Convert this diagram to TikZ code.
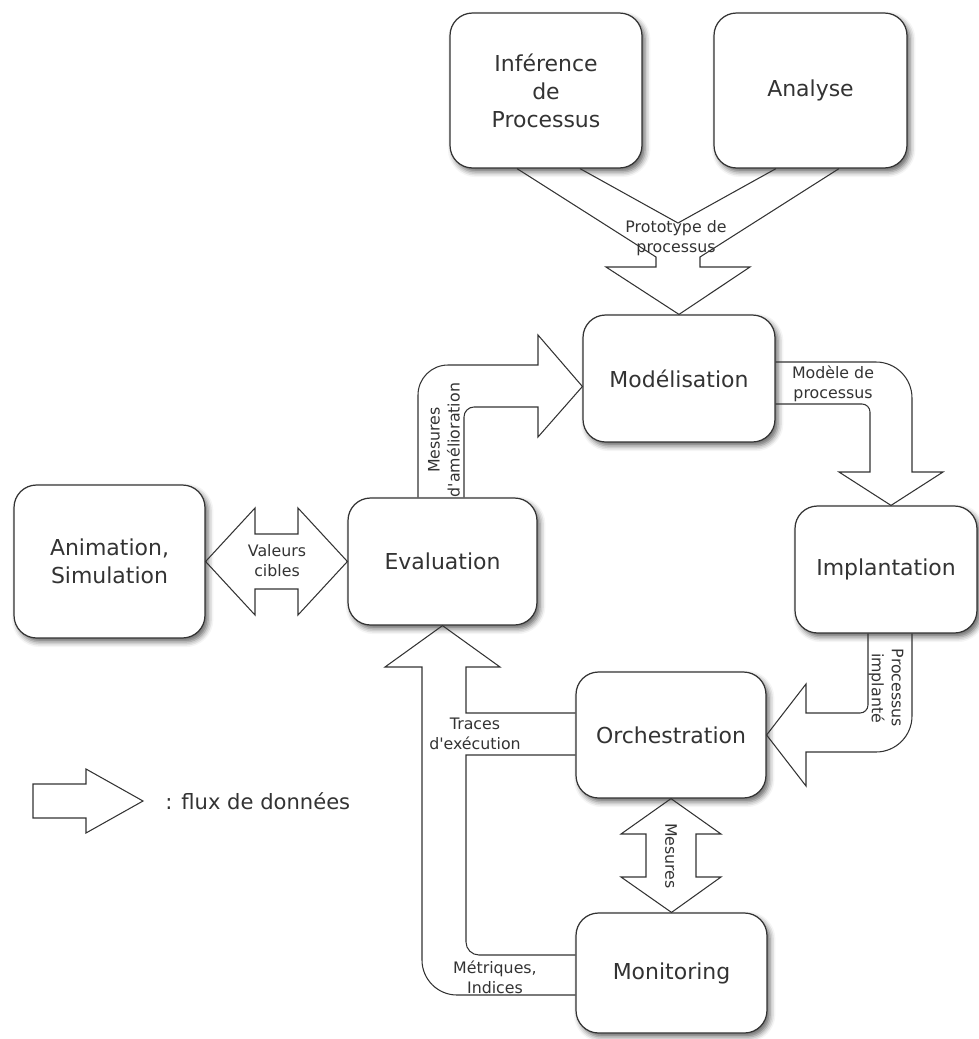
\documentclass[tikz,border=0pt]{standalone}
\usepackage{fontspec}
\setmainfont{DejaVu Sans}[Ligatures=TeXOff]
\usetikzlibrary{calc,shadows.blur}

\begin{document}
\begin{tikzpicture}[x=0.02cm, y=-0.02cm,
  box/.style={draw=black!80, line width=0.7pt, fill=white, rounded corners=0.45cm,
    align=center, inner sep=0pt, text=black!80, font=\fontsize{12.5}{16}\selectfont,
    blur shadow={shadow xshift=1.8pt, shadow yshift=-2.2pt, shadow blur radius=3pt, shadow opacity=60}},
  flow/.style={draw=black!80, line width=0.6pt},
  lbl/.style={align=center, inner sep=0pt, text=black!80, font=\fontsize{9}{11.4}\selectfont}]
  \useasboundingbox (0,0) rectangle (979,1039);

  % boxes
  \node[box, minimum width=3.84cm, minimum height=3.1cm] (infer) at (546,90.5) {Inférence\\de\\Processus};
  \node[box, minimum width=3.86cm, minimum height=3.1cm] (analyse) at (810.5,90.5) {Analyse};
  \node[box, minimum width=3.84cm, minimum height=2.54cm] (model) at (679,378.5) {Modélisation};
  \node[box, minimum width=3.82cm, minimum height=3.06cm] (anim) at (109.5,561.5) {Animation,\\Simulation};
  \node[box, minimum width=3.78cm, minimum height=2.54cm] (eval) at (442.5,561.5) {Evaluation};
  \node[box, minimum width=3.64cm, minimum height=2.54cm] (impl) at (886,569.5) {Implantation};
  \node[box, minimum width=3.8cm, minimum height=2.52cm] (orch) at (671,735) {Orchestration};
  \node[box, minimum width=3.82cm, minimum height=2.4cm] (monit) at (671.5,973) {Monitoring};

  % prototype de processus
  \draw[flow] ($(infer.south)+(-29,0)$) -- (656,257) -- (656,267) -- (606,267) -- (model.north)
    -- (750,267) -- (700,267) -- (700,257) -- ($(analyse.south)+(28.5,0)$);
  \draw[flow] ($(infer.south)+(34,0)$) -- (678,223) -- ($(analyse.south)+(-34.5,0)$);
  \node[lbl] (proto) at (676,238) {Prototype de\\processus};

  % mesures d'amelioration
  \draw[flow] ($(eval.north)+(-24.5,0)$) [rounded corners=0.6cm] -- (418,365) [sharp corners] -- (538,365)
    -- (538,335) -- ($(model.west)+(0,8)$) -- (538,437) -- (538,407) [rounded corners=0.2cm] -- (464,407)
    [sharp corners] -- ($(eval.north)+(21.5,0)$);
  \node[lbl, rotate=90] (amelio) at (444,440) {Mesures\\d'amélioration};

  % modele de processus
  \draw[flow] ($(model.east)+(0,-16.5)$) [rounded corners=0.72cm] -- (912,362) [sharp corners] -- (912,472)
    -- (943,472) -- ($(impl.north)+(5,0)$) -- (839,472) -- (870,472) [rounded corners=0.16cm] -- (870,404)
    [sharp corners] -- ($(model.east)+(0,25.5)$);
  \node[lbl] (modele) at (833,384) {Modèle de\\processus};

  % processus implante
  \draw[flow] ($(impl.south)+(-18,0)$) [rounded corners=0.16cm] -- (868,713) [sharp corners] -- (806,713)
    -- (806,684) -- (orch.east) -- (806,786) -- (806,752) [rounded corners=0.72cm] -- (912,752)
    [sharp corners] -- ($(impl.south)+(26,0)$);
  \node[lbl, rotate=-90] (implante) at (886,688) {Processus\\implanté};

  % valeurs cibles
  \draw[flow] (anim.east) -- (255,508) -- (255,534) -- (298,534) -- (298,508) -- (eval.west)
    -- (298,615) -- (298,589) -- (255,589) -- (255,615) -- cycle;
  \node[lbl] (valeurs) at (277,561) {Valeurs\\cibles};

  % mesures
  \draw[flow] (orch.south) -- (721,834) -- (696,834) -- (696,877) -- (721,877) -- (monit.north)
    -- (621,877) -- (646,877) -- (646,834) -- (621,834) -- cycle;
  \node[lbl, rotate=-90] (mesures) at (671,856) {Mesures};

  % traces et metriques
  \draw[flow] ($(monit.west)+(0,22)$) [rounded corners=0.7cm] -- (422,995) [sharp corners] -- (422,667)
    -- (385,667) -- (eval.south) -- (500,667) -- (466,667) -- (466,713) -- ($(orch.west)+(0,-22)$);
  \draw[flow] ($(orch.west)+(0,20)$) -- (466,755) [rounded corners=0.26cm] -- (466,955) [sharp corners]
    -- ($(monit.west)+(0,-18)$);
  \node[lbl] (traces) at (475,734) {Traces\\d'exécution};
  \node[lbl] (metriques) at (495,977) {Métriques,\\Indices};

  % legende
  \draw[flow] (33,784) -- (86,784) -- (86,769) -- (143,801) -- (86,833) -- (86,818) -- (33,818) -- cycle;
  \node[anchor=west, inner sep=0pt, text=black!80, font=\fontsize{12}{14}\selectfont] (legende) at (165,801) {: flux de données};
\end{tikzpicture}
\end{document}
